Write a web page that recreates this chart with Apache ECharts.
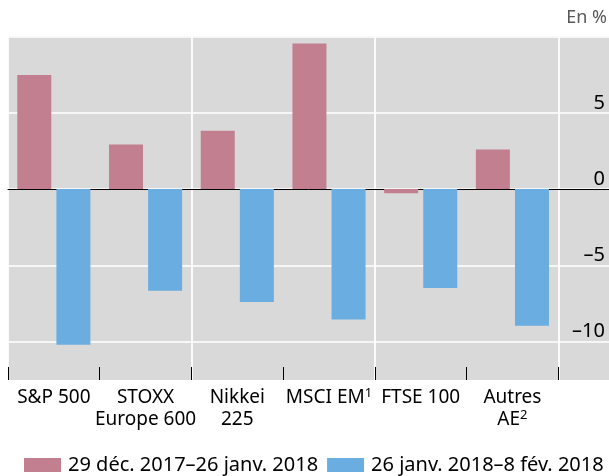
<!DOCTYPE html>
<html>
<head>
<meta charset="utf-8">
<script src="https://cdn.jsdelivr.net/npm/echarts@6/dist/echarts.min.js"></script>
<style>
html,body{margin:0;padding:0;background:#fff;}
#chart{width:609px;height:476px;}
</style>
</head>
<body>
<div id="chart"></div>
<script>
const categories = ['S&P 500', 'STOXX\nEurope 600', 'Nikkei\n225', 'MSCI EM', 'FTSE 100', 'Autres\nAE'];
const footnotes = ['', '', '', '1', '', '2'];
const seriesNames = ['29 déc. 2017–26 janv. 2018', '26 janv. 2018–8 fév. 2018'];
const period1 = [7.47, 2.93, 3.82, 9.54, -0.28, 2.6];
const period2 = [-10.2, -6.66, -7.4, -8.54, -6.48, -8.96];
const yMin = -15, yMax = 10, yInterval = 5;
const yLabelValues = [5, 0, -5, -10];
const unitLabel = 'En %';

const FONT = 'Noto Sans';
const xData = categories.map((c, i) => footnotes[i] ? c + '{sup|' + footnotes[i] + '}' : c).concat(['']);

const chart = echarts.init(document.getElementById('chart'), null, {renderer: 'canvas'});
chart.setOption({
  animation: false,
  textStyle: {fontFamily: FONT},
  title: {
    text: unitLabel, right: 2, top: 9, padding: 0,
    textStyle: {fontFamily: FONT, fontSize: 18, fontWeight: 'normal', color: '#595959'}
  },
  graphic: [{
    type: 'rect', z: -100, silent: true,
    shape: {x: 8, y: 36.5, width: 601, height: 343.5},
    style: {fill: '#d9d9d9'}
  }],
  legend: {
    left: 19, top: 450, itemWidth: 37, itemHeight: 14, itemGap: 9,
    icon: 'rect',
    textStyle: {fontFamily: FONT, fontSize: 20, color: '#000', padding: [0, 0, 0, 2]},
    data: seriesNames
  },
  grid: {left: 8, width: 642, top: 36.5, bottom: 58, containLabel: false, outerBoundsMode: 'none'},
  xAxis: [{
    type: 'category', data: xData, position: 'bottom',
    axisLine: {show: true, onZero: true, lineStyle: {color: '#000', width: 1}},
    axisTick: {show: false}, axisLabel: {show: false},
    splitLine: {show: true, lineStyle: {color: '#ffffff', width: 1.8}}
  }, {
    type: 'category', data: xData, position: 'bottom', offset: -38,
    axisLine: {show: false, onZero: false},
    axisTick: {show: true, inside: true, length: 13, lineStyle: {color: '#000', width: 1}},
    axisLabel: {
      show: true, interval: 0, margin: 7, fontFamily: FONT, fontSize: 19, lineHeight: 22, color: '#000',
      rich: {sup: {fontSize: 13, verticalAlign: 'top', lineHeight: 14, fontFamily: FONT, color: '#000'}}
    },
    splitLine: {show: false}
  }],
  yAxis: {
    type: 'value', min: yMin, max: yMax, interval: yInterval, position: 'right', offset: -45,
    axisLine: {show: false}, axisTick: {show: false},
    axisLabel: {
      inside: true, margin: 0, fontFamily: FONT, fontSize: 20, color: '#000', verticalAlign: 'bottom',
      formatter: v => yLabelValues.indexOf(v) >= 0 ? String(v).replace('-', '–') : ''
    },
    splitLine: {show: true, lineStyle: {color: '#ffffff', width: 1.5}}
  },
  series: [{
    name: seriesNames[0], type: 'bar', xAxisIndex: 0, data: period1,
    barWidth: 34, barGap: '15%', itemStyle: {color: '#c27f90'}
  }, {
    name: seriesNames[1], type: 'bar', xAxisIndex: 0, data: period2,
    barWidth: 34, barGap: '15%', itemStyle: {color: '#6aade0'}
  }]
});
</script>
</body>
</html>
